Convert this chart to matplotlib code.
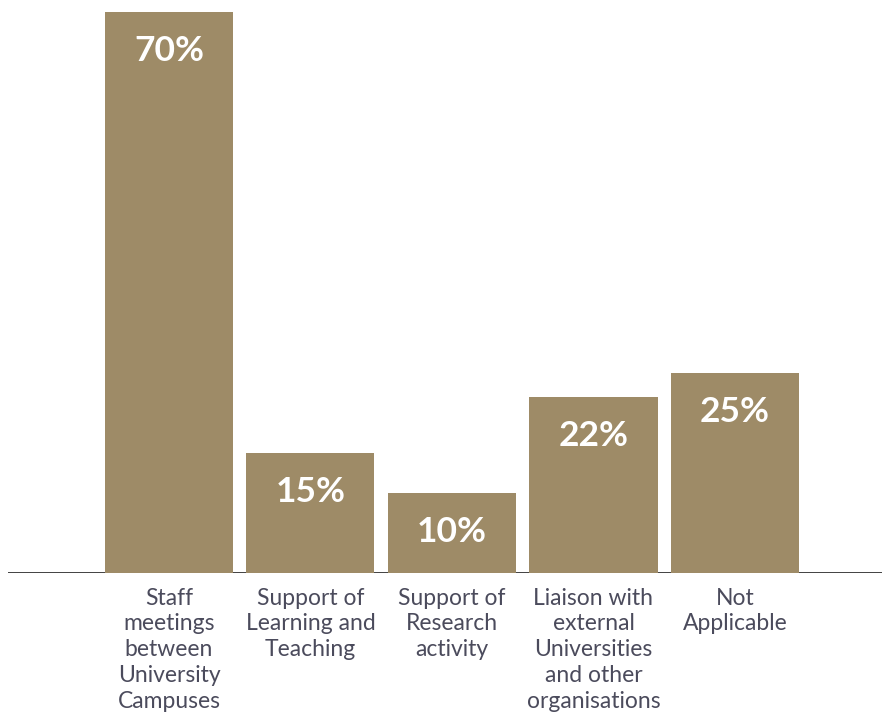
import matplotlib
matplotlib.use("Agg")
import matplotlib.pyplot as plt

categories = [
    "Staff\nmeetings\nbetween\nUniversity\nCampuses",
    "Support of\nLearning and\nTeaching",
    "Support of\nResearch\nactivity",
    "Liaison with\nexternal\nUniversities\nand other\norganisations",
    "Not\nApplicable",
]
values = [70, 15, 10, 22, 25]

BAR_COLOR = "#9e8b67"
TEXT_COLOR = "#4b4b5c"

fig = plt.figure(figsize=(8.82, 7.22), dpi=100)
ax = fig.add_axes([0.0, 0.2064, 1.0, 0.7936])

x = list(range(len(values)))
bars = ax.bar(x, values, width=0.905, color=BAR_COLOR, zorder=2)

X0, X1 = -1.194, 5.039
ax.set_xlim(X0, X1)
ax.set_ylim(0, 71.5)
ax.axis("off")

# baseline rule
ax.plot([X0 + 0.057, X1], [0, 0], color="#333333", lw=1.3, zorder=1,
        solid_capstyle="butt")

for rect, v in zip(bars, values):
    ax.annotate(f"{v}%", (rect.get_x() + rect.get_width() / 2, v),
                xytext=(0, -28), textcoords="offset points",
                ha="center", va="center", color="white",
                fontsize=25.5, fontweight="bold", family="Lato", zorder=3)

for xi, lab in zip(x, categories):
    ax.annotate(lab, (xi, 0), xytext=(0, -10.5), textcoords="offset points",
                ha="center", va="top", color=TEXT_COLOR, fontsize=16.5,
                family="Lato", linespacing=1.29, annotation_clip=False)

fig.savefig("out.png", dpi=100)
